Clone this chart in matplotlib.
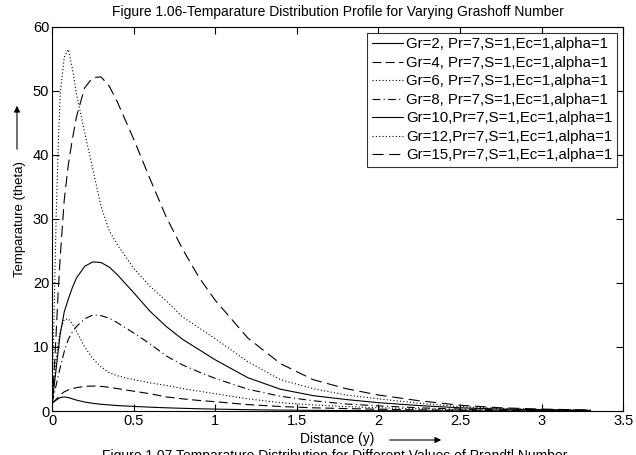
import numpy as np
import matplotlib
matplotlib.use("Agg")
import matplotlib.pyplot as plt

plt.rcParams['font.family'] = ['Liberation Sans', 'DejaVu Sans']

# distance values shared by all curves
y_dist = [0, 0.0125, 0.025, 0.0375, 0.05, 0.075, 0.1, 0.125, 0.15, 0.2, 0.25, 0.3,
          0.35, 0.4, 0.5, 0.6, 0.7, 0.8, 0.9, 1.0, 1.2, 1.4, 1.6, 1.8, 2.0, 2.25,
          2.5, 2.75, 3.0, 3.3]

# temperature, one list per Grashoff number
theta_gr2 = [1.2, 1.45, 1.7, 1.9, 2.1, 2.2, 2.1, 1.9, 1.7, 1.4, 1.2, 1.05, 0.95, 0.85,
             0.72, 0.6, 0.5, 0.42, 0.35, 0.3, 0.2, 0.14, 0.1, 0.07, 0.05, 0.03, 0.02,
             0.01, 0.01, 0.0]
theta_gr4 = [1.2, 1.5, 1.8, 2.15, 2.5, 3.0, 3.3, 3.5, 3.65, 3.85, 3.9, 3.85, 3.7, 3.5,
             3.1, 2.7, 2.2, 1.9, 1.65, 1.45, 1.0, 0.7, 0.5, 0.38, 0.28, 0.18, 0.12,
             0.08, 0.05, 0.03]
theta_gr6 = [1.2, 4.5, 8.0, 10.5, 12.5, 14.3, 14.4, 13.6, 12.5, 10.0, 8.2, 6.9, 6.0,
             5.5, 4.9, 4.4, 4.0, 3.5, 3.1, 2.7, 1.9, 1.3, 0.95, 0.7, 0.5, 0.35, 0.22,
             0.14, 0.09, 0.05]
theta_gr8 = [1.2, 2.6, 4.0, 5.4, 6.8, 9.3, 11.2, 12.4, 13.2, 14.4, 15.0, 14.9, 14.5,
             13.8, 12.2, 10.5, 8.6, 7.2, 6.1, 5.1, 3.4, 2.3, 1.6, 1.1, 0.8, 0.5, 0.3,
             0.2, 0.12, 0.06]
theta_gr10 = [1.2, 3.8, 6.5, 9.3, 12.0, 15.5, 17.5, 19.3, 20.8, 22.6, 23.3, 23.2, 22.5,
              21.3, 18.5, 15.6, 13.2, 11.2, 9.6, 8.0, 5.2, 3.4, 2.4, 1.8, 1.3, 0.85,
              0.5, 0.3, 0.2, 0.1]
theta_gr12 = [1.2, 15.0, 30.0, 41.0, 49.5, 55.3, 56.5, 53.5, 49.5, 43.5, 37.8, 32.0,
              28.2, 26.0, 22.3, 19.5, 17.2, 14.7, 13.0, 11.3, 7.7, 4.9, 3.5, 2.5, 1.9,
              1.2, 0.7, 0.4, 0.25, 0.12]
theta_gr15 = [1.2, 6.0, 12.0, 18.5, 24.0, 33.0, 38.5, 42.5, 46.0, 50.5, 52.1, 52.2,
              50.8, 48.3, 42.5, 36.3, 30.3, 25.3, 20.9, 17.3, 11.4, 7.4, 4.9, 3.5, 2.5,
              1.6, 0.9, 0.5, 0.3, 0.15]

labels = ['Gr=2, Pr=7,S=1,Ec=1,alpha=1', 'Gr=4, Pr=7,S=1,Ec=1,alpha=1',
          'Gr=6, Pr=7,S=1,Ec=1,alpha=1', 'Gr=8, Pr=7,S=1,Ec=1,alpha=1',
          'Gr=10,Pr=7,S=1,Ec=1,alpha=1', 'Gr=12,Pr=7,S=1,Ec=1,alpha=1',
          'Gr=15,Pr=7,S=1,Ec=1,alpha=1']
series = [theta_gr2, theta_gr4, theta_gr6, theta_gr8, theta_gr10, theta_gr12, theta_gr15]
styles = ['-', (0, (8, 4)), (0, (1, 2)), (0, (7, 3, 1, 3)), '-', (0, (1, 2)), (0, (10, 5))]

fig = plt.figure(figsize=(6.36, 4.55), dpi=100)
ax = fig.add_axes([0.0818, 0.0967, 0.898, 0.844])

for theta, ls, lab in zip(series, styles, labels):
    ax.plot(y_dist, theta, color='black', linestyle=ls, linewidth=0.8, label=lab)

ax.set_xlim(0, 3.5)
ax.set_ylim(0, 60)
ax.set_xticks(np.arange(0, 3.51, 0.5))
ax.set_xticklabels(['0', '0.5', '1', '1.5', '2', '2.5', '3', '3.5'])
ax.set_yticks(np.arange(0, 61, 10))
ax.tick_params(direction='in', top=True, right=True, labelsize=10.5, length=5, width=0.8, pad=2)
for sp in ax.spines.values():
    sp.set_linewidth(0.8)

ax.set_title('Figure 1.06-Temparature Distribution Profile for Varying Grashoff Number',
             fontsize=10, pad=8)
ax.set_xlabel('Distance (y)', fontsize=10, labelpad=3)
ax.set_ylabel('Temparature (theta)', fontsize=9.5, labelpad=5)

# arrows next to axis labels
fig.patches.append(matplotlib.patches.FancyArrowPatch(
    (387 / 636, 1 - 440 / 455), (444 / 636, 1 - 440 / 455), transform=fig.transFigure,
    arrowstyle='-|>', mutation_scale=9, color='black', linewidth=0.8))
fig.patches.append(matplotlib.patches.FancyArrowPatch(
    (17 / 636, 1 - 152 / 455), (17 / 636, 1 - 103 / 455), transform=fig.transFigure,
    arrowstyle='-|>', mutation_scale=9, color='black', linewidth=0.8))

leg = ax.legend(loc='upper right', fontsize=10.8, frameon=True, fancybox=False,
                edgecolor='black', handlelength=2.1, handletextpad=0.2,
                borderaxespad=0.4, borderpad=0.3, labelspacing=0.3)
leg.get_frame().set_linewidth(0.8)

# caption of the next figure, cut off by the image edge
fig.text(0.527, 1 - 449 / 455,
         'Figure 1.07 Temparature Distribution for Different Values of Prandtl Number',
         ha='center', va='top', fontsize=10)

fig.savefig('out.png', dpi=100)
